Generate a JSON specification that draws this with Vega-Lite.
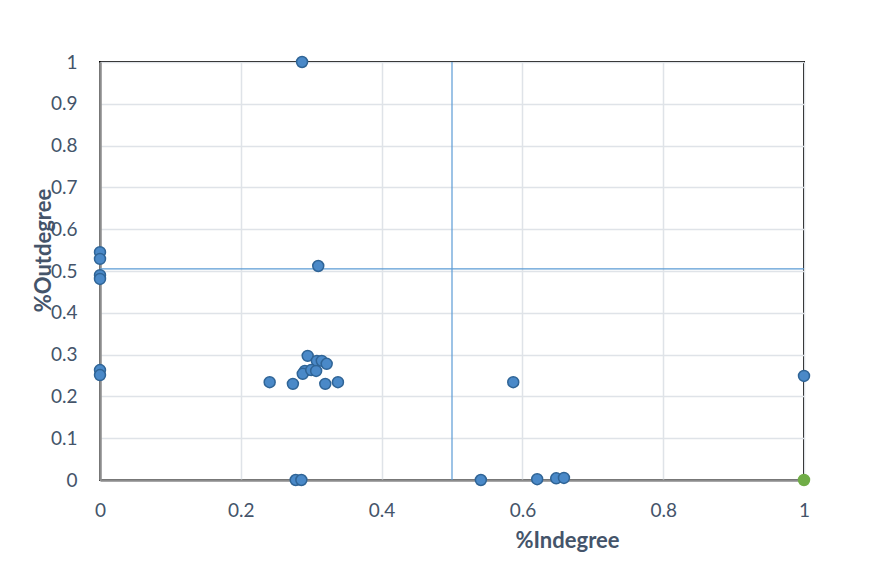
{
  "$schema": "https://vega.github.io/schema/vega-lite/v6.json",
  "width": 704,
  "height": 418,
  "autosize": "none",
  "padding": {"left": 100, "top": 62, "right": 77, "bottom": 84},
  "background": "white",
  "config": {
    "view": {"stroke": "black", "strokeWidth": 2},
    "font": "Lato",
    "axis": {
      "labelFont": "Lato", "labelFontSize": 19, "labelColor": "#44546A",
      "titleFont": "Lato", "titleFontSize": 22, "titleFontWeight": "bold", "titleColor": "#44546A",
      "gridColor": "#DFE3E8", "gridWidth": 1.5, "ticks": false,
      "domainColor": "#8C8C8C", "domainWidth": 2.5
    }
  },
  "datasets": {
    "pts": [
      {"indegree": 0.287, "outdegree": 1.0, "group": "a"},
      {"indegree": 0.0, "outdegree": 0.545, "group": "a"},
      {"indegree": 0.0, "outdegree": 0.529, "group": "a"},
      {"indegree": 0.0, "outdegree": 0.490, "group": "a"},
      {"indegree": 0.0, "outdegree": 0.481, "group": "a"},
      {"indegree": 0.310, "outdegree": 0.512, "group": "a"},
      {"indegree": 0.0, "outdegree": 0.263, "group": "a"},
      {"indegree": 0.0, "outdegree": 0.251, "group": "a"},
      {"indegree": 0.241, "outdegree": 0.234, "group": "a"},
      {"indegree": 0.274, "outdegree": 0.230, "group": "a"},
      {"indegree": 0.295, "outdegree": 0.297, "group": "a"},
      {"indegree": 0.308, "outdegree": 0.285, "group": "a"},
      {"indegree": 0.315, "outdegree": 0.285, "group": "a"},
      {"indegree": 0.322, "outdegree": 0.278, "group": "a"},
      {"indegree": 0.291, "outdegree": 0.261, "group": "a"},
      {"indegree": 0.288, "outdegree": 0.254, "group": "a"},
      {"indegree": 0.300, "outdegree": 0.263, "group": "a"},
      {"indegree": 0.307, "outdegree": 0.261, "group": "a"},
      {"indegree": 0.320, "outdegree": 0.230, "group": "a"},
      {"indegree": 0.338, "outdegree": 0.234, "group": "a"},
      {"indegree": 0.587, "outdegree": 0.234, "group": "a"},
      {"indegree": 1.0, "outdegree": 0.249, "group": "a"},
      {"indegree": 0.278, "outdegree": 0.0, "group": "a"},
      {"indegree": 0.286, "outdegree": 0.0, "group": "a"},
      {"indegree": 0.541, "outdegree": 0.0, "group": "a"},
      {"indegree": 0.621, "outdegree": 0.002, "group": "a"},
      {"indegree": 0.648, "outdegree": 0.004, "group": "a"},
      {"indegree": 0.659, "outdegree": 0.005, "group": "a"},
      {"indegree": 1.0, "outdegree": 0.0, "group": "b"}
    ]
  },
  "layer": [
    {
      "data": {"values": [{"v": 0.5}]},
      "mark": {"type": "rule", "color": "#5B9BD5", "strokeWidth": 1.2},
      "encoding": {"x": {"field": "v", "type": "quantitative", "scale": {"domain": [0, 1]}}}
    },
    {
      "data": {"values": [{"h": 0.505}]},
      "mark": {"type": "rule", "color": "#5B9BD5", "strokeWidth": 1.2},
      "encoding": {"y": {"field": "h", "type": "quantitative", "scale": {"domain": [0, 1]}}}
    },
    {
      "data": {"name": "pts"},
      "mark": {"type": "point", "filled": true, "opacity": 1, "strokeWidth": 1.5, "size": 120},
      "encoding": {
        "x": {
          "field": "indegree", "type": "quantitative",
          "scale": {"domain": [0, 1], "nice": false, "zero": true},
          "axis": {"values": [0, 0.2, 0.4, 0.6, 0.8, 1], "format": "~g", "labelPadding": 21, "labelFlush": false,
                   "title": "%Indegree", "titleX": 467, "titleY": 60, "titleBaseline": "middle", "titleAnchor": "start", "titleAlign": "center"}
        },
        "y": {
          "field": "outdegree", "type": "quantitative",
          "scale": {"domain": [0, 1], "nice": false},
          "axis": {"values": [0, 0.1, 0.2, 0.3, 0.4, 0.5, 0.6, 0.7, 0.8, 0.9, 1], "format": "~g", "labelPadding": 23, "labelFlush": false,
                   "title": "%Outdegree", "titleX": -57, "titleY": 188, "titleAngle": -90, "titleBaseline": "middle", "titleAlign": "center"}
        },
        "fill": {"field": "group", "type": "nominal", "scale": {"domain": ["a", "b"], "range": ["#4A89C8", "#70AD47"]}, "legend": null},
        "stroke": {"field": "group", "type": "nominal", "scale": {"domain": ["a", "b"], "range": ["#2F6496", "#70AD47"]}, "legend": null}
      }
    }
  ]
}
